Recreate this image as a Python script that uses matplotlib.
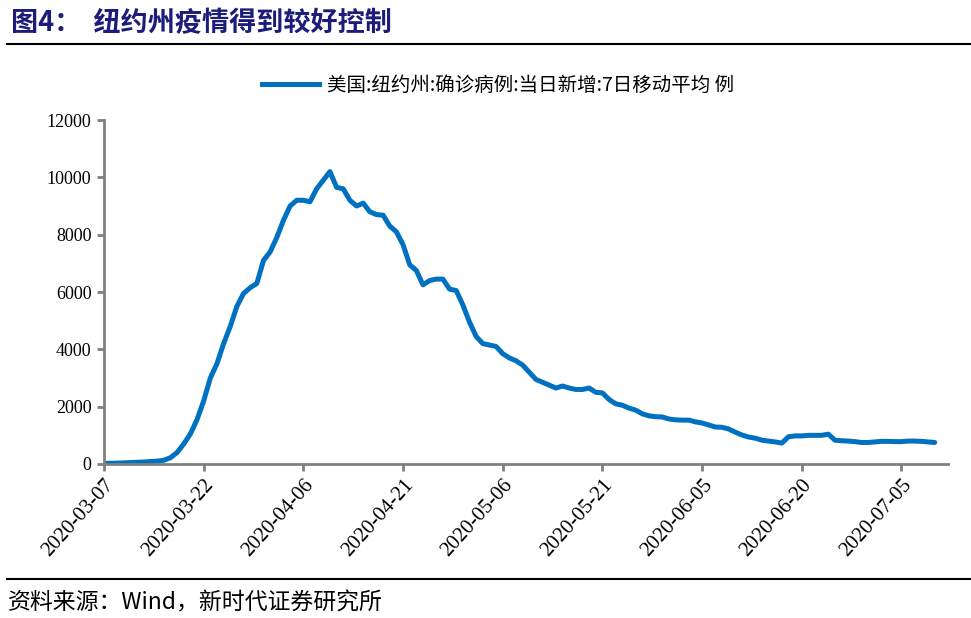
import numpy as np
import pandas as pd
import matplotlib
matplotlib.use("Agg")
import matplotlib.pyplot as plt
import matplotlib.dates as mdates
from matplotlib.lines import Line2D

# === Dados (média móvel de 7 dias, casos diários NY) ===
start_date = "2020-03-07"
cases_7d = [
    20, 25, 30, 40, 50, 60, 70, 85, 100, 130,
    220, 400, 700, 1050, 1550, 2200, 3000, 3500, 4200, 4800,
    5500, 5950, 6150, 6300, 7100, 7400, 7900, 8500, 9000, 9200,
    9200, 9150, 9600, 9900, 10200, 9650, 9600, 9200, 9000, 9100,
    8800, 8700, 8680, 8300, 8100, 7650, 6950, 6750, 6250, 6400,
    6450, 6450, 6100, 6050, 5550, 4950, 4450, 4200, 4150, 4100,
    3850, 3700, 3600, 3450, 3200, 2950, 2850, 2750, 2650, 2720,
    2650, 2600, 2600, 2650, 2500, 2480, 2250, 2100, 2050, 1950,
    1880, 1750, 1680, 1650, 1640, 1570, 1540, 1530, 1530, 1470,
    1430, 1360, 1290, 1280, 1220, 1110, 1010, 940, 900, 830,
    800, 770, 730, 950, 980, 980, 1000, 1000, 1000, 1040,
    830, 810, 800, 780, 750, 750, 770, 790, 790, 780,
    780, 800, 800, 790, 770, 750,
]
series_label = "美国:纽约州:确诊病例:当日新增:7日移动平均 例"
title_text = "图4：  纽约州疫情得到较好控制"
source_text = "资料来源：Wind，新时代证券研究所"
y_ticks = [0, 2000, 4000, 6000, 8000, 10000, 12000]

dates = pd.date_range(start_date, periods=len(cases_7d), freq="D")
tick_dates = pd.date_range(start_date, periods=9, freq="15D")

LINE_COLOR = "#0070C0"
AXIS_GRAY = "#808080"
TITLE_COLOR = "#1C1C7A"
CJK = ["Noto Sans CJK SC", "DejaVu Sans"]

# === Figura ===
fig = plt.figure(figsize=(9.71, 6.18), dpi=100)
ax = fig.add_axes([0.1071, 0.2492, 0.9763 - 0.1071, 0.8058 - 0.2492])

ax.plot(dates, cases_7d, color=LINE_COLOR, linewidth=3.6,
        solid_joinstyle="round", solid_capstyle="round")

ax.set_ylim(0, 12000)
ax.set_yticks(y_ticks)
ax.set_xlim(dates[0], pd.Timestamp("2020-07-12"))
ax.set_xticks(tick_dates)
ax.xaxis.set_major_formatter(mdates.DateFormatter("%Y-%m-%d"))

for s in ["top", "right"]:
    ax.spines[s].set_visible(False)
for s in ["left", "bottom"]:
    ax.spines[s].set_color(AXIS_GRAY)
    ax.spines[s].set_linewidth(2)
ax.tick_params(axis="both", colors=AXIS_GRAY, width=2, length=5, direction="out")
ax.tick_params(axis="both", labelcolor="black")
ax.tick_params(axis="y", pad=4)

for lbl in ax.get_yticklabels():
    lbl.set_fontfamily("Liberation Serif")
    lbl.set_fontsize(13)
for lbl in ax.get_xticklabels():
    lbl.set_fontfamily("Liberation Serif")
    lbl.set_fontsize(15)
    lbl.set_rotation(48)
    lbl.set_ha("right")
    lbl.set_rotation_mode("anchor")

# === Legenda ===
handle = Line2D([0], [0], color=LINE_COLOR, linewidth=3.6)
leg = fig.legend([handle], [series_label], loc="center", bbox_to_anchor=(0.513, 0.862),
                 frameon=False, handlelength=2.9, handletextpad=0.4,
                 prop={"family": CJK, "size": 14})

# === Título, linhas e fonte ===
fig.text(0.011, 0.963, title_text, fontsize=19.5, fontweight="bold",
         color=TITLE_COLOR, family=CJK, va="center", ha="left")
fig.add_artist(Line2D([0.007, 1.0], [0.929, 0.929], color="black", linewidth=1.5))
fig.add_artist(Line2D([0.007, 1.0], [1 - 579 / 618, 1 - 579 / 618], color="black", linewidth=1.5))
fig.text(0.008, 1 - 603 / 618, source_text, fontsize=16.5, color="black",
         family=CJK, va="center", ha="left")

fig.savefig("out.png", dpi=100)
